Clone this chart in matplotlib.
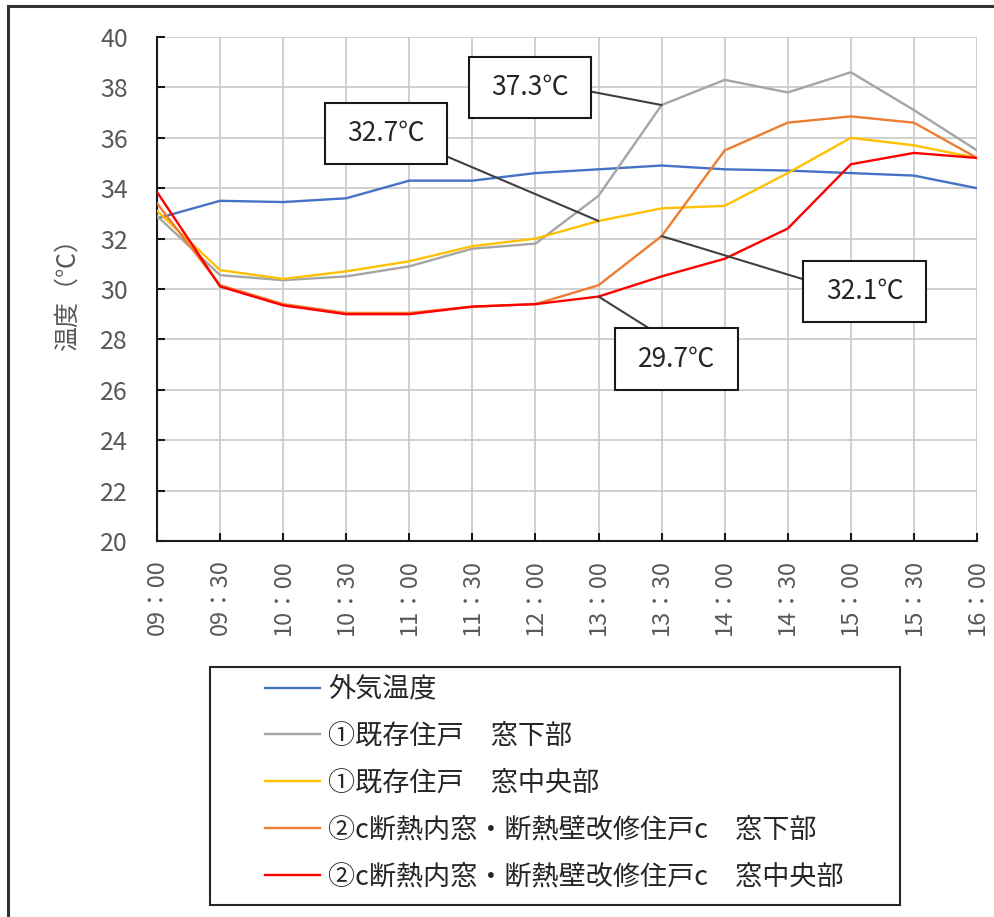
import matplotlib
matplotlib.use("Agg")
import matplotlib.pyplot as plt
from matplotlib.path import Path
from matplotlib.lines import Line2D
from matplotlib.patches import Rectangle

plt.rcParams["font.family"] = ["Noto Sans CJK JP", "DejaVu Sans"]

# ---- data -------------------------------------------------------------
times = ["09：00", "09：30", "10：00", "10：30", "11：00", "11：30", "12：00",
         "13：00", "13：30", "14：00", "14：30", "15：00", "15：30", "16：00"]

outdoor = [32.8, 33.5, 33.45, 33.6, 34.3, 34.3, 34.6,
           34.75, 34.9, 34.75, 34.7, 34.6, 34.5, 34.0]
existing_low = [32.9, 30.55, 30.35, 30.5, 30.9, 31.6, 31.8,
                33.7, 37.3, 38.3, 37.8, 38.6, 37.1, 35.5]
existing_mid = [33.1, 30.75, 30.4, 30.7, 31.1, 31.7, 32.0,
                32.7, 33.2, 33.3, 34.6, 36.0, 35.7, 35.2]
renov_low = [33.4, 30.15, 29.4, 29.05, 29.05, 29.3, 29.4,
             30.15, 32.1, 35.5, 36.6, 36.85, 36.6, 35.2]
renov_mid = [33.85, 30.1, 29.35, 29.0, 29.0, 29.3, 29.4,
             29.7, 30.5, 31.2, 32.4, 34.95, 35.4, 35.2]

labels = ["外気温度",
          "①既存住戸　窓下部",
          "①既存住戸　窓中央部",
          "②c断熱内窓・断熱壁改修住戸c　窓下部",
          "②c断熱内窓・断熱壁改修住戸c　窓中央部"]
colors = ["#4472C4", "#A5A5A5", "#FFC000", "#ED7D31", "#FF0000"]
series = [outdoor, existing_low, existing_mid, renov_low, renov_mid]

# callouts: (series index, time index, box centre in axes fraction, leader start on box)
callouts = [
    (1, 8, (0.455, 0.900), (1.0, 0.5)),
    (2, 7, (0.279, 0.8085), (1.0, 0.0)),
    (3, 8, (0.863, 0.495), (0.0, 0.7)),
    (4, 7, (0.6335, 0.361), (0.5, 1.0)),
]

# ---- figure -----------------------------------------------------------
W, H = 995, 917
fig = plt.figure(figsize=(W / 100, H / 100), dpi=100)
ax = fig.add_axes([157 / W, 1 - 541 / H, 820 / W, 504 / H])

x = list(range(len(times)))
for vals, lab, col in zip(series, labels, colors):
    ax.plot(x, vals, color=col, lw=1.7, label=lab, zorder=3)

ax.set_xlim(0, len(times) - 1)
ax.set_ylim(20, 40)
ax.set_yticks(range(20, 41, 2))
ax.set_xticks(x)
ax.set_xticklabels(times, rotation=90)

ax.grid(True, color="#C8C8C8", lw=1.2, zorder=0)
ax.set_axisbelow(True)
for side in ("top", "right"):
    ax.spines[side].set_visible(False)
for side in ("left", "bottom"):
    ax.spines[side].set_color("#1A1A1A")
    ax.spines[side].set_linewidth(1.5)

ax.tick_params(axis="both", direction="in", length=6, width=1.5,
               color="#1A1A1A", labelcolor="#595959")
ax.tick_params(axis="y", labelsize=18, pad=21)
ax.tick_params(axis="x", labelsize=17, pad=13)

ax.set_ylabel("温度（℃）", fontsize=18, color="#595959")
ax.yaxis.set_label_coords(-0.093, 0.5)


def label_box(x0, y0, width, height, mutation_size):
    px = 0.85 * mutation_size
    py = 0.65 * mutation_size
    verts = [(x0 - px, y0 - py), (x0 + width + px, y0 - py),
             (x0 + width + px, y0 + height + py), (x0 - px, y0 + height + py),
             (x0 - px, y0 - py)]
    codes = [Path.MOVETO, Path.LINETO, Path.LINETO, Path.LINETO, Path.CLOSEPOLY]
    return Path(verts, codes)


for si, ti, pos, rel in callouts:
    v = series[si][ti]
    ax.annotate(f"{v:.1f}℃", xy=(ti, v), xycoords="data",
                xytext=pos, textcoords="axes fraction",
                ha="center", va="center", fontsize=19, color="#262626",
                bbox=dict(boxstyle=label_box, fc="white", ec="#1A1A1A", lw=1.5),
                arrowprops=dict(arrowstyle="-", color="#404040", lw=1.5,
                                shrinkA=0, shrinkB=0, relpos=rel),
                zorder=5)

# legend with its own frame
fig.add_artist(Rectangle((210 / W, 1 - 905 / H), 690 / W, 238 / H,
                         transform=fig.transFigure, fill=False,
                         ec="#262626", lw=1.5))
leg = fig.legend(loc="upper left", bbox_to_anchor=(265 / W, 1 - 676 / H),
                 frameon=False, fontsize=19.5, borderpad=0, borderaxespad=0,
                 handlelength=2.03, handletextpad=0.3, labelspacing=0.73)
for t in leg.get_texts():
    t.set_color("#262626")

# outer frame of the chart area
fig.add_artist(Line2D([8 / W, 8 / W], [0, 1 - 6 / H], transform=fig.transFigure,
                      color="#333333", lw=2.2))
fig.add_artist(Line2D([8 / W, 1], [1 - 6 / H, 1 - 6 / H], transform=fig.transFigure,
                      color="#333333", lw=2.2))

fig.savefig("out.png", dpi=100)
